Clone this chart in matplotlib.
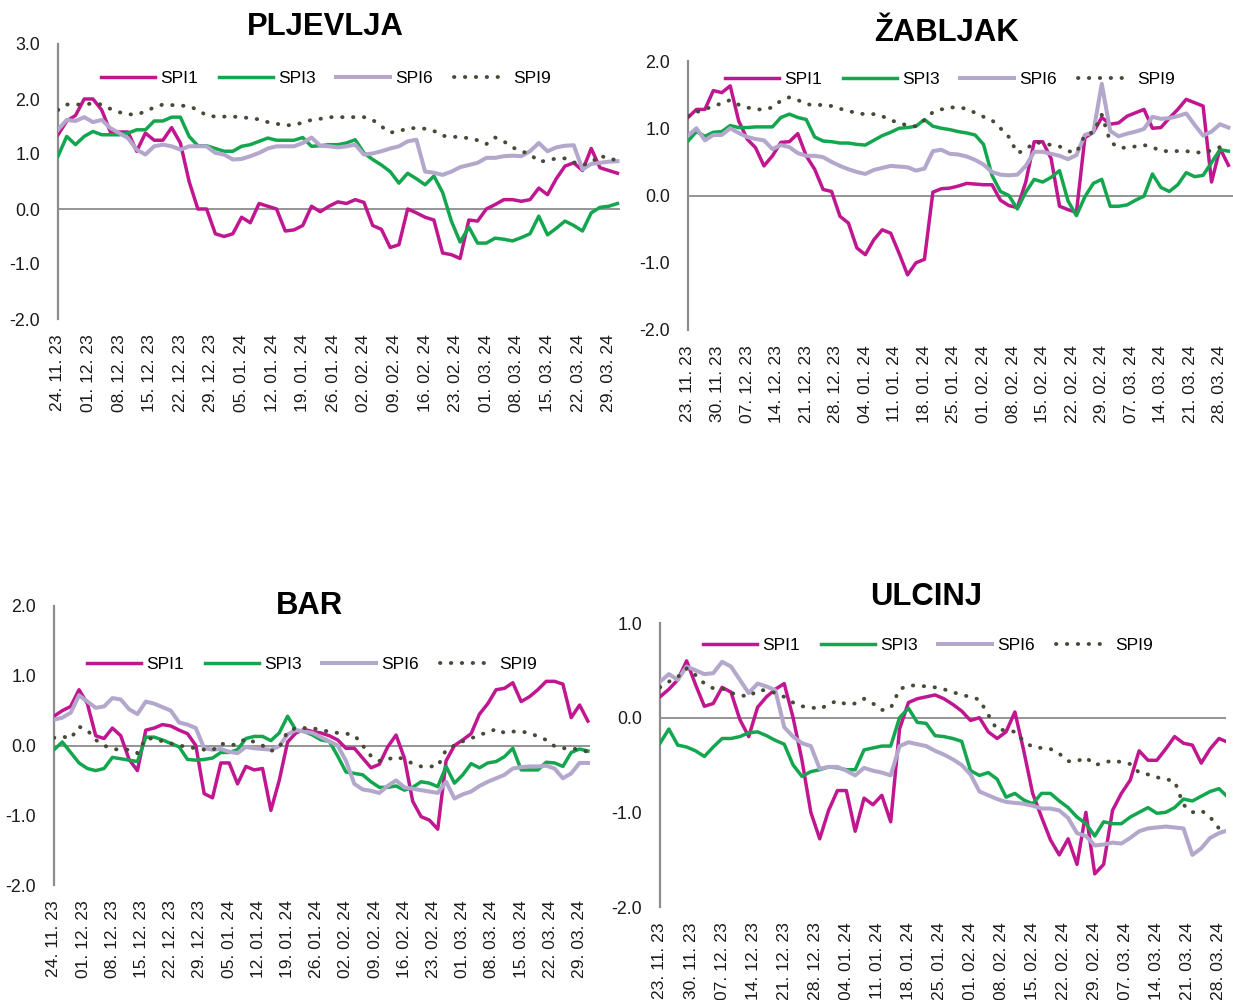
import numpy as np
import matplotlib
matplotlib.use('Agg')
import matplotlib.pyplot as plt

plt.rcParams['font.family'] = ['Liberation Sans', 'DejaVu Sans']

# ---------------- data (values every 2 days from the first tick date) ----------------
STEP_DAYS = 2
SERIES_NAMES = ['SPI1', 'SPI3', 'SPI6', 'SPI9']

PLJ_START = '2023-11-24'
PLJ_SPI1 = [1.35, 1.6, 1.7, 2.0, 2.0, 1.8, 1.4, 1.4, 1.4, 1.05,
            1.38, 1.25, 1.25, 1.48, 1.2, 0.5, 0.0, 0.0, -0.45, -0.5,
            -0.45, -0.15, -0.25, 0.1, 0.05, 0.0, -0.4, -0.38, -0.3, 0.05,
            -0.05, 0.05, 0.13, 0.1, 0.17, 0.12, -0.3, -0.37, -0.7, -0.65,
            0.0, -0.07, -0.15, -0.2, -0.8, -0.83, -0.9, -0.2, -0.22, 0.0,
            0.08, 0.17, 0.17, 0.14, 0.17, 0.38, 0.26, 0.55, 0.78, 0.84,
            0.7, 1.1, 0.75, 0.7, 0.65]
PLJ_SPI3 = [0.96, 1.32, 1.17, 1.32, 1.41, 1.35, 1.35, 1.35, 1.38, 1.44,
            1.44, 1.6, 1.6, 1.67, 1.67, 1.32, 1.15, 1.15, 1.1, 1.05,
            1.05, 1.14, 1.17, 1.23, 1.29, 1.25, 1.25, 1.25, 1.3, 1.14,
            1.15, 1.17, 1.17, 1.2, 1.26, 1.02, 0.9, 0.8, 0.68, 0.47,
            0.65, 0.55, 0.44, 0.6, 0.3, -0.22, -0.6, -0.33, -0.62, -0.62,
            -0.53, -0.55, -0.58, -0.52, -0.45, -0.13, -0.47, -0.35, -0.22, -0.3,
            -0.4, -0.07, 0.03, 0.05, 0.1]
PLJ_SPI6 = [1.44, 1.62, 1.6, 1.67, 1.58, 1.62, 1.47, 1.38, 1.29, 1.08,
            0.99, 1.14, 1.17, 1.14, 1.08, 1.14, 1.14, 1.14, 1.02, 0.99,
            0.9, 0.91, 0.96, 1.02, 1.1, 1.14, 1.14, 1.14, 1.2, 1.3,
            1.15, 1.14, 1.12, 1.14, 1.17, 0.99, 1.01, 1.05, 1.1, 1.14,
            1.23, 1.26, 0.68, 0.66, 0.62, 0.68, 0.76, 0.8, 0.84, 0.93,
            0.93, 0.96, 0.97, 0.96, 1.05, 1.2, 1.05, 1.12, 1.15, 1.16,
            0.72, 0.82, 0.84, 0.86, 0.87]
PLJ_SPI9 = [1.8, 1.9, 1.9, 1.9, 1.92, 1.9, 1.82, 1.76, 1.72, 1.72,
            1.77, 1.85, 1.9, 1.89, 1.88, 1.87, 1.8, 1.7, 1.68, 1.68,
            1.68, 1.67, 1.65, 1.63, 1.58, 1.55, 1.52, 1.53, 1.57, 1.62,
            1.64, 1.67, 1.67, 1.67, 1.67, 1.67, 1.62, 1.5, 1.39, 1.41,
            1.47, 1.47, 1.46, 1.42, 1.33, 1.32, 1.3, 1.29, 1.25, 1.18,
            1.3, 1.23, 1.12, 1.05, 1.0, 0.86, 0.88, 0.92, 0.92, 0.85,
            0.8, 0.84, 0.98, 0.9, 0.9]

ZAB_START = '2023-11-23'
ZAB_SPI1 = [1.16, 1.28, 1.28, 1.56, 1.53, 1.63, 1.11, 0.84, 0.71, 0.44,
            0.59, 0.79, 0.8, 0.92, 0.59, 0.39, 0.09, 0.06, -0.31, -0.41,
            -0.78, -0.88, -0.66, -0.51, -0.56, -0.86, -1.18, -1.0, -0.95, 0.05,
            0.1, 0.11, 0.14, 0.18, 0.17, 0.16, 0.16, -0.07, -0.15, -0.18,
            0.2, 0.8, 0.8, 0.55, -0.16, -0.21, -0.25, 0.86, 0.94, 1.16,
            1.06, 1.08, 1.18, 1.23, 1.28, 1.0, 1.01, 1.15, 1.28, 1.43,
            1.38, 1.33, 0.2, 0.7, 0.45]
ZAB_SPI3 = [0.81, 0.95, 0.88, 0.94, 0.95, 1.04, 1.01, 1.01, 1.02, 1.02,
            1.02, 1.16, 1.21, 1.16, 1.13, 0.87, 0.81, 0.8, 0.78, 0.78,
            0.76, 0.75, 0.82, 0.89, 0.94, 1.0, 1.01, 1.03, 1.13, 1.03,
            1.0, 0.98, 0.95, 0.93, 0.9, 0.76, 0.3, 0.06, 0.0, -0.2,
            0.05, 0.24, 0.2, 0.27, 0.37, -0.08, -0.3, -0.02, 0.18, 0.24,
            -0.16, -0.16, -0.14, -0.07, -0.01, 0.32, 0.12, 0.06, 0.16, 0.34,
            0.28, 0.3, 0.49, 0.68, 0.66]
ZAB_SPI6 = [0.89, 1.0, 0.82, 0.9, 0.9, 1.0, 0.93, 0.87, 0.84, 0.82,
            0.69, 0.75, 0.72, 0.63, 0.59, 0.59, 0.57, 0.5, 0.44, 0.39,
            0.35, 0.32, 0.38, 0.41, 0.44, 0.43, 0.42, 0.37, 0.4, 0.66,
            0.68, 0.62, 0.61, 0.58, 0.53, 0.46, 0.35, 0.31, 0.3, 0.31,
            0.44, 0.65, 0.65, 0.62, 0.59, 0.54, 0.6, 0.9, 0.94, 1.66,
            0.96, 0.88, 0.92, 0.95, 0.99, 1.17, 1.14, 1.15, 1.18, 1.22,
            1.05, 0.89, 0.95, 1.06, 1.01]
ZAB_SPI9 = [1.18, 1.24, 1.28, 1.33, 1.37, 1.42, 1.35, 1.31, 1.28, 1.28,
            1.31, 1.41, 1.46, 1.42, 1.36, 1.34, 1.35, 1.33, 1.29, 1.26,
            1.22, 1.21, 1.21, 1.18, 1.12, 1.08, 1.04, 1.03, 1.12, 1.24,
            1.28, 1.31, 1.31, 1.29, 1.23, 1.17, 1.12, 1.0, 0.87, 0.63,
            0.68, 0.79, 0.78, 0.75, 0.73, 0.66, 0.64, 0.9, 0.94, 1.2,
            0.8, 0.71, 0.71, 0.73, 0.75, 0.72, 0.66, 0.66, 0.66, 0.66,
            0.64, 0.64, 0.67, 0.72, 0.71]

BAR_START = '2023-11-24'
BAR_SPI1 = [0.42, 0.5, 0.56, 0.8, 0.6, 0.14, 0.1, 0.25, 0.14, -0.2,
            -0.36, 0.22, 0.25, 0.3, 0.28, 0.22, 0.17, 0.0, -0.69, -0.75,
            -0.25, -0.25, -0.55, -0.3, -0.35, -0.33, -0.93, -0.5, 0.05, 0.18,
            0.23, 0.2, 0.18, 0.14, 0.08, -0.04, -0.04, -0.18, -0.32, -0.27,
            -0.02, 0.15, -0.18, -0.8, -1.02, -1.07, -1.2, -0.22, 0.0, 0.08,
            0.17, 0.45, 0.6, 0.8, 0.82, 0.9, 0.63, 0.7, 0.8, 0.92,
            0.92, 0.88, 0.4, 0.58, 0.35]
BAR_SPI3 = [-0.06, 0.05, -0.1, -0.25, -0.33, -0.36, -0.33, -0.17, -0.19, -0.21,
            -0.23, 0.12, 0.12, 0.08, 0.03, -0.02, -0.2, -0.21, -0.2, -0.18,
            -0.1, -0.1, -0.06, 0.1, 0.13, 0.13, 0.07, 0.18, 0.42, 0.22,
            0.2, 0.15, 0.08, 0.06, -0.15, -0.38, -0.4, -0.42, -0.52, -0.6,
            -0.6, -0.58, -0.64, -0.6, -0.52, -0.54, -0.59, -0.3, -0.54, -0.42,
            -0.26, -0.32, -0.25, -0.23, -0.16, -0.04, -0.35, -0.35, -0.35, -0.24,
            -0.25, -0.3, -0.1, -0.05, -0.08]
BAR_SPI6 = [0.37, 0.4, 0.47, 0.72, 0.63, 0.54, 0.56, 0.68, 0.66, 0.52,
            0.45, 0.63, 0.6, 0.55, 0.5, 0.33, 0.3, 0.25, -0.04, -0.06,
            -0.05, -0.09, -0.11, -0.02, -0.04, -0.05, -0.06, -0.01, 0.16, 0.22,
            0.2, 0.18, 0.12, 0.06, 0.0, -0.22, -0.55, -0.63, -0.65, -0.68,
            -0.58, -0.5, -0.6, -0.62, -0.64, -0.66, -0.68, -0.52, -0.76, -0.7,
            -0.66, -0.58, -0.52, -0.47, -0.42, -0.33, -0.31, -0.3, -0.3, -0.29,
            -0.33, -0.47, -0.4, -0.25, -0.25]
BAR_SPI9 = [0.11, 0.13, 0.1, 0.27, 0.22, 0.08, 0.0, -0.05, -0.06, -0.06,
            -0.11, 0.1, 0.1, 0.06, 0.03, 0.0, -0.02, -0.04, -0.06, -0.07,
            0.03, 0.0, 0.02, 0.1, 0.05, 0.0, -0.08, -0.03, 0.2, 0.25,
            0.25, 0.25, 0.22, 0.2, 0.18, 0.17, 0.15, 0.0, -0.15, -0.22,
            -0.2, -0.16, -0.2, -0.26, -0.3, -0.3, -0.3, -0.06, 0.0, 0.06,
            0.1, 0.16, 0.18, 0.24, 0.18, 0.2, 0.2, 0.18, 0.13, 0.08,
            -0.01, -0.04, -0.04, -0.06, -0.09]

ULC_START = '2023-11-23'
ULC_SPI1 = [0.22, 0.3, 0.4, 0.6, 0.35, 0.12, 0.15, 0.32, 0.27, -0.02,
            -0.2, 0.11, 0.22, 0.3, 0.36, 0.0, -0.45, -1.0, -1.28, -0.98,
            -0.77, -0.77, -1.2, -0.85, -0.92, -0.82, -1.1, -0.12, 0.16, 0.2,
            0.22, 0.24, 0.2, 0.14, 0.07, -0.03, 0.0, -0.15, -0.22, -0.15,
            0.06, -0.35, -0.8, -1.05, -1.29, -1.45, -1.28, -1.55, -1.0, -1.65,
            -1.55, -0.98, -0.8, -0.66, -0.35, -0.45, -0.45, -0.33, -0.2, -0.27,
            -0.29, -0.48, -0.33, -0.22, -0.26]
ULC_SPI3 = [-0.27, -0.12, -0.29, -0.31, -0.35, -0.41, -0.31, -0.22, -0.22, -0.2,
            -0.16, -0.15, -0.19, -0.24, -0.28, -0.5, -0.62, -0.57, -0.55, -0.52,
            -0.53, -0.55, -0.55, -0.34, -0.32, -0.3, -0.3, 0.0, 0.1, -0.05,
            -0.06, -0.19, -0.2, -0.22, -0.25, -0.56, -0.61, -0.58, -0.65, -0.84,
            -0.8, -0.87, -0.91, -0.8, -0.8, -0.88, -0.95, -1.05, -1.12, -1.25,
            -1.1, -1.12, -1.12, -1.05, -1.0, -0.95, -1.01, -1.0, -0.95, -0.86,
            -0.88, -0.83, -0.78, -0.75, -0.84]
ULC_SPI6 = [0.38, 0.46, 0.4, 0.54, 0.5, 0.46, 0.47, 0.59, 0.54, 0.4,
            0.26, 0.36, 0.33, 0.29, -0.1, -0.2, -0.27, -0.3, -0.54, -0.52,
            -0.52, -0.56, -0.61, -0.53, -0.56, -0.58, -0.61, -0.3, -0.26, -0.28,
            -0.3, -0.35, -0.39, -0.44, -0.5, -0.6, -0.78, -0.82, -0.86, -0.89,
            -0.9, -0.91, -0.93, -0.96, -0.96, -0.98, -1.06, -1.22, -1.25, -1.35,
            -1.34, -1.32, -1.33, -1.27, -1.2, -1.17, -1.16, -1.15, -1.16, -1.17,
            -1.45, -1.38, -1.27, -1.22, -1.19]
ULC_SPI9 = [0.32, 0.38, 0.43, 0.52, 0.45, 0.36, 0.31, 0.31, 0.26, 0.24,
            0.22, 0.29, 0.29, 0.26, 0.22, 0.16, 0.12, 0.11, 0.09, 0.14,
            0.18, 0.14, 0.15, 0.2, 0.15, 0.08, 0.1, 0.3, 0.34, 0.34,
            0.33, 0.32, 0.3, 0.27, 0.24, 0.22, 0.19, 0.03, -0.13, -0.13,
            -0.15, -0.25, -0.31, -0.32, -0.33, -0.38, -0.46, -0.46, -0.42, -0.5,
            -0.48, -0.45, -0.47, -0.49, -0.58, -0.6, -0.63, -0.65, -0.67, -0.92,
            -1.0, -0.98, -1.05, -1.17, -1.16]

# ---------------- styling ----------------
COLORS = ['#C0168F', '#14A64F', '#B3A7CC', '#4A4837']
W, H = 1233, 1000

panels = [
    dict(title='PLJEVLJA', start=PLJ_START, data=[PLJ_SPI1, PLJ_SPI3, PLJ_SPI6, PLJ_SPI9],
         box=(58, 44, 620, 319), ylim=(-2, 3), span=128.6,
         title_xy=(325, 27), leg_xy=(326, 78)),
    dict(title='ŽABLJAK', start=ZAB_START, data=[ZAB_SPI1, ZAB_SPI3, ZAB_SPI6, ZAB_SPI9],
         box=(688, 61, 1233, 330), ylim=(-2, 2), span=129.1,
         title_xy=(946, 33), leg_xy=(950, 79)),
    dict(title='BAR', start=BAR_START, data=[BAR_SPI1, BAR_SPI3, BAR_SPI6, BAR_SPI9],
         box=(54, 606, 590, 885), ylim=(-2, 2), span=128.5,
         title_xy=(309, 606), leg_xy=(312, 664)),
    dict(title='ULCINJ', start=ULC_START, data=[ULC_SPI1, ULC_SPI3, ULC_SPI6, ULC_SPI9],
         box=(660, 623, 1226, 907), ylim=(-2, 1), span=127.6,
         title_xy=(926, 597), leg_xy=(928, 645)),
]

fig = plt.figure(figsize=(W / 100, H / 100), dpi=100)
fig.patch.set_facecolor('white')

for p in panels:
    x0, y0, x1, y1 = p['box']
    ax = fig.add_axes([x0 / W, 1 - y1 / H, (x1 - x0) / W, (y1 - y0) / H])
    start = np.datetime64(p['start'])
    n = len(p['data'][0])
    dates = start + np.arange(n) * np.timedelta64(STEP_DAYS, 'D')
    handles = []
    for i, (vals, name) in enumerate(zip(p['data'], SERIES_NAMES)):
        if i == 3:
            h, = ax.plot(dates, vals, color=COLORS[i], lw=2.8,
                         linestyle=(0, (0.1, 2.7)), dash_capstyle='round', label=name, zorder=5)
        elif i == 2:
            h, = ax.plot(dates, vals, color=COLORS[i], lw=2.9, solid_joinstyle='round',
                         label=name, zorder=4)
        else:
            h, = ax.plot(dates, vals, color=COLORS[i], lw=2.5, solid_joinstyle='round',
                         label=name, zorder=3 if i == 0 else 3.5)
        handles.append(h)
    ax.axhline(0, color='#8C8C8C', lw=1.3, zorder=2)
    ax.set_ylim(*p['ylim'])
    ax.set_xlim(start, start + np.timedelta64(int(round(p['span'] * 24)), 'h'))
    yt = np.arange(p['ylim'][0], p['ylim'][1] + 0.5, 1.0)
    ax.set_yticks(yt)
    ax.set_yticklabels([f'{v:.1f}' for v in yt])
    ticks = start + np.arange(0, 127, 7) * np.timedelta64(1, 'D')
    ax.set_xticks(ticks)
    ax.set_xticklabels([str(t)[8:10] + '. ' + str(t)[5:7] + '. ' + str(t)[2:4] for t in ticks],
                       rotation=90)
    ax.tick_params(axis='y', length=0, pad=13, labelsize=12.8, labelcolor='#1a1a1a')
    ax.tick_params(axis='x', length=0, pad=11, labelsize=12.6, labelcolor='#1a1a1a')
    for s in ['top', 'right', 'bottom']:
        ax.spines[s].set_visible(False)
    ax.spines['left'].set_color('#8C8C8C')
    ax.spines['left'].set_linewidth(1.6)
    ax.patch.set_alpha(0)

    lx, ly = p['leg_xy']
    ax.legend(handles=handles, loc='center', bbox_to_anchor=(lx / W, 1 - ly / H),
              bbox_transform=fig.transFigure, ncol=4, frameon=False, fontsize=12.5,
              handlelength=3.1, handletextpad=0.3, columnspacing=1.2, borderpad=0)
    tx, ty = p['title_xy']
    fig.text(tx / W, 1 - ty / H, p['title'], ha='center', va='center',
             fontsize=22.3, fontweight='bold', color='black')

fig.savefig('out.png', dpi=100)
